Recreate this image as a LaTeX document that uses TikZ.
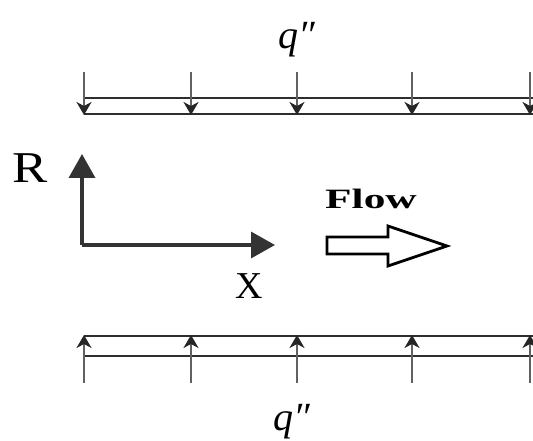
\documentclass[tikz,border=0pt]{standalone}
\usepackage{fontspec}
\setmainfont{Liberation Serif}
\usetikzlibrary{arrows.meta}
\begin{document}
\begin{tikzpicture}[x=1pt,y=-1pt,
  wall/.style={draw=black!82,line width=2.4pt},
  flux/.style={draw=black!62,line width=1.8pt,-{Stealth[length=13pt,width=15pt,inset=4pt,color=black!85]}},
  axis/.style={draw=black!80,line width=3.5pt,-{Triangle[length=24pt,width=26pt]}},
  qlbl/.style={font=\fontsize{40}{44}\selectfont\itshape,inner sep=0pt},
  hollow/.style={draw=black,line width=2.8pt,fill=white,line join=miter}]
\useasboundingbox (0,0) rectangle (533,441);
% walls
\draw[wall] (84,98) -- (533,98);
\draw[wall] (84,114) -- (533,114);
\draw[wall] (84,336) -- (533,336);
\draw[wall] (84,356) -- (533,356);
% heat flux arrows
\foreach \x [count=\i] in {84,191,297,412,530}{
  \coordinate (ta\i) at (\x,72);
  \coordinate (tb\i) at (\x,115);
  \coordinate (ba\i) at (\x,383);
  \coordinate (bb\i) at (\x,335);
  \draw[flux] (ta\i) -- (tb\i);
  \draw[flux] (ba\i) -- (bb\i);
}
% labels
\node[qlbl] (qtop) at (297,40) {q″};
\node[qlbl] (qbot) at (292,422) {q″};
% axes
\coordinate (o) at (82,245);
\coordinate (rtip) at (82,154);
\coordinate (xtip) at (275,245);
\draw[axis] (o) -- (rtip);
\draw[axis] (o) -- (xtip);
\node[font=\fontsize{44}{48}\selectfont,inner sep=0pt,xscale=1.2] (R) at (30,168) {R};
\node[font=\fontsize{38}{42}\selectfont,inner sep=0pt] (X) at (249,286) {X};
% flow
\node[font=\fontsize{28}{30}\selectfont\bfseries,inner sep=0pt,xscale=1.55] (flow) at (371,199) {Flow};
\draw[hollow] (327,237) -- (388,237) -- (388,226) -- (447,246) -- (388,266) -- (388,254) -- (327,254) -- cycle;
\end{tikzpicture}
\end{document}
